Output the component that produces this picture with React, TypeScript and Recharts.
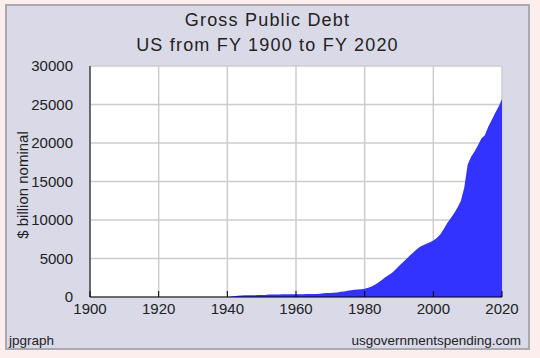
import React from 'react';
import { AreaChart, Area, XAxis, YAxis, CartesianGrid } from 'recharts';

// fiscal years and gross public debt, $ billion nominal
const years = [
  1941, 1942, 1943, 1944, 1945, 1946, 1947, 1948, 1949, 1950,
  1951, 1952, 1953, 1954, 1955, 1956, 1957, 1958, 1959, 1960,
  1961, 1962, 1963, 1964, 1965, 1966, 1967, 1968, 1969, 1970,
  1971, 1972, 1973, 1974, 1975, 1976, 1977, 1978, 1979, 1980,
  1981, 1982, 1983, 1984, 1985, 1986, 1987, 1988, 1989, 1990,
  1991, 1992, 1993, 1994, 1995, 1996, 1997, 1998, 1999, 2000,
  2001, 2002, 2003, 2004, 2005, 2006, 2007, 2008, 2009, 2010,
  2011, 2012, 2013, 2014, 2015, 2016, 2017, 2018, 2019, 2020,
];
const debt = [
  60, 100, 160, 210, 230, 240, 240, 240, 245, 250,
  260, 330, 335, 340, 340, 345, 345, 350, 355, 360,
  365, 370, 375, 380, 390, 400, 420, 500, 510, 530,
  560, 600, 680, 720, 800, 880, 940, 990, 1020, 1070,
  1200, 1370, 1600, 1880, 2200, 2560, 2850, 3160, 3560, 4020,
  4450, 4870, 5320, 5730, 6150, 6500, 6720, 6920, 7120, 7350,
  7650, 8120, 8800, 9570, 10200, 10850, 11600, 12480, 14200, 17200,
  18200, 18900, 19700, 20600, 21000, 22100, 23000, 23900, 24700, 25700,
];

const xTicks = [1900, 1920, 1940, 1960, 1980, 2000, 2020];
const yTicks = [0, 5000, 10000, 15000, 20000, 25000, 30000];
const yMinorTicks = [
  0, 1000, 2000, 3000, 4000, 5000, 6000, 7000, 8000, 9000, 10000,
  11000, 12000, 13000, 14000, 15000, 16000, 17000, 18000, 19000, 20000,
  21000, 22000, 23000, 24000, 25000, 26000, 27000, 28000, 29000, 30000,
];

const data = years.map((year, i) => ({ year, debt: debt[i] }));

const font = '"Liberation Sans", Arial, sans-serif';
const blank = () => '';

export default function App() {
  return (
    <div
      style={{
        position: 'absolute',
        left: 0,
        top: 0,
        width: 540,
        height: 358,
        background: '#fdeeee',
        fontFamily: font,
        color: '#222',
      }}
    >
      <div
        style={{
          position: 'absolute',
          left: 5,
          top: 4,
          width: 525,
          height: 346,
          boxSizing: 'border-box',
          border: '2px solid #a9a9b0',
          background: '#d9d9e8',
        }}
      />
      <div style={{ position: 'absolute', left: 5, width: 525, top: 11, fontSize: 18, lineHeight: '18px', textAlign: 'center', letterSpacing: 1.2 }}>
        Gross Public Debt
      </div>
      <div style={{ position: 'absolute', left: 5, width: 525, top: 36, fontSize: 18, lineHeight: '18px', textAlign: 'center', letterSpacing: 1.2 }}>
        US from FY 1900 to FY 2020
      </div>
      <div
        style={{
          position: 'absolute',
          left: 22,
          top: 185,
          fontSize: 15,
          lineHeight: '15px',
          whiteSpace: 'nowrap',
          transform: 'translate(-50%, -50%) rotate(-90deg)',
        }}
      >
        $ billion nominal
      </div>
      <div style={{ position: 'absolute', left: 9, top: 334, fontSize: 13.5, lineHeight: '14px' }}>jpgraph</div>
      <div style={{ position: 'absolute', right: 19, top: 334, fontSize: 13.5, lineHeight: '14px' }}>
        usgovernmentspending.com
      </div>

      <div style={{ position: 'absolute', left: 0, top: 0 }}>
        <AreaChart width={540} height={358} data={data} margin={{ top: 66, right: 38, bottom: 31, left: 10 }}>
          <CartesianGrid fill="#ffffff" stroke="#cccccc" strokeWidth={1.5} />
          <XAxis
            dataKey="year"
            type="number"
            domain={[1900, 2020]}
            ticks={xTicks}
            height={30}
            tickLine={false}
            tickSize={0}
            tickMargin={6}
            axisLine={{ stroke: '#000' }}
            tick={{ fontSize: 15, fill: '#222' }}
          />
          <XAxis
            xAxisId="inner"
            dataKey="year"
            type="number"
            domain={[1900, 2020]}
            ticks={xTicks}
            mirror
            axisLine={false}
            tickSize={6}
            tickLine={{ stroke: '#000' }}
            tickFormatter={blank}
          />
          <YAxis
            type="number"
            domain={[0, 30000]}
            ticks={yTicks}
            width={80}
            tickLine={false}
            tickSize={0}
            tickMargin={17}
            axisLine={{ stroke: '#000' }}
            tick={{ fontSize: 15, fill: '#222' }}
          />
          <YAxis
            yAxisId="minor"
            type="number"
            domain={[0, 30000]}
            ticks={yMinorTicks}
            mirror
            axisLine={false}
            tickSize={4}
            tickLine={{ stroke: '#000' }}
            tickFormatter={blank}
          />
          <YAxis
            yAxisId="major"
            type="number"
            domain={[0, 30000]}
            ticks={yTicks}
            mirror
            axisLine={false}
            tickSize={6}
            tickLine={{ stroke: '#000' }}
            tickFormatter={blank}
          />
          <Area
            type="linear"
            dataKey="debt"
            stroke="none"
            fill="#3333ff"
            fillOpacity={1}
            isAnimationActive={false}
          />
        </AreaChart>
      </div>
    </div>
  );
}
